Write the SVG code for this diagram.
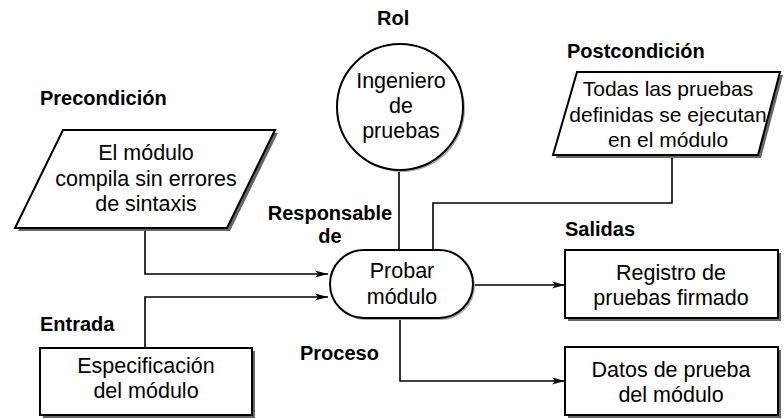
<svg xmlns="http://www.w3.org/2000/svg" width="784" height="419" viewBox="0 0 784 419">
<style>
.t{font-family:"Liberation Sans",Arial,sans-serif;font-size:21.5px;fill:#000;text-anchor:middle}
.lb{font-family:"Liberation Sans",Arial,sans-serif;font-size:20px;font-weight:700;fill:#000}
.shape{fill:#fff;stroke:#000;stroke-width:2}
.shadow{fill:#666;stroke:none}
.lshadow{fill:#aaa;stroke:none}
.conn path{fill:none;stroke:#000;stroke-width:1.6}
</style>
<defs>
<marker id="arr" markerWidth="14" markerHeight="8" refX="13" refY="4" orient="auto" markerUnits="userSpaceOnUse">
<path d="M0,0.5 L13,4 L0,7.5 L3,4 Z" fill="#000"/>
</marker>
</defs>
<rect width="784" height="419" fill="#fff"/>

<g id="labels">
<text class="lb" x="377" y="25">Rol</text>
<text class="lb" x="40" y="105">Precondición</text>
<text class="lb" x="567" y="58">Postcondición</text>
<text class="lb" x="330" y="220" text-anchor="middle">Responsable</text>
<text class="lb" x="330" y="243" text-anchor="middle">de</text>
<text class="lb" x="565" y="236">Salidas</text>
<text class="lb" x="40" y="331">Entrada</text>
<text class="lb" x="300" y="360">Proceso</text>
</g>

<g id="connectors" class="conn">
<path d="M145,229 V274 H328" marker-end="url(#arr)"/>
<path d="M145,348 V297 H328" marker-end="url(#arr)"/>
<path d="M399,170 V250"/>
<path d="M433,250 V203 H672 V157"/>
<path d="M473,285 H565" marker-end="url(#arr)"/>
<path d="M400,318 V381 H565" marker-end="url(#arr)"/>
</g>

<g id="rol">
<circle class="lshadow" cx="402" cy="109" r="63"/>
<circle class="shape" cx="400" cy="107" r="63"/>
<text class="t" x="401" y="88">Ingeniero</text>
<text class="t" x="401" y="113">de</text>
<text class="t" x="401" y="138">pruebas</text>
</g>

<g id="precondicion">
<polygon class="shadow" points="66,133 278,133 230,231 18,231"/>
<polygon class="shape" points="63,130 275,130 227,228 15,228"/>
<text class="t" x="146" y="160">El módulo</text>
<text class="t" x="146" y="186">compila sin errores</text>
<text class="t" x="146" y="211">de sintaxis</text>
</g>

<g id="postcondicion">
<polygon class="shadow" points="580,75 783,75 761,158 556,158"/>
<polygon class="shape" points="577,72 780,72 758,155 553,155"/>
<text class="t" x="668" y="96" style="font-size:21px">Todas las pruebas</text>
<text class="t" x="668" y="122" style="font-size:21px">definidas se ejecutan</text>
<text class="t" x="668" y="147" style="font-size:21px">en el módulo</text>
</g>

<g id="proceso">
<rect class="lshadow" x="332" y="252" width="143" height="68" rx="34"/>
<rect class="shape" x="330" y="250" width="143" height="68" rx="34"/>
<text class="t" x="402" y="278">Probar</text>
<text class="t" x="402" y="304">módulo</text>
</g>

<g id="entrada">
<rect class="shadow" x="43" y="351" width="212" height="67"/>
<rect class="shape" x="40" y="348" width="212" height="67"/>
<text class="t" x="146" y="373">Especificación</text>
<text class="t" x="146" y="398">del módulo</text>
</g>

<g id="registro">
<rect class="shadow" x="568" y="253" width="213" height="68"/>
<rect class="shape" x="565" y="250" width="213" height="68"/>
<text class="t" x="671" y="280">Registro de</text>
<text class="t" x="671" y="305">pruebas firmado</text>
</g>

<g id="datos">
<rect class="shadow" x="568" y="350" width="213" height="68"/>
<rect class="shape" x="565" y="347" width="213" height="68"/>
<text class="t" x="671" y="377">Datos de prueba</text>
<text class="t" x="671" y="402">del módulo</text>
</g>
</svg>
